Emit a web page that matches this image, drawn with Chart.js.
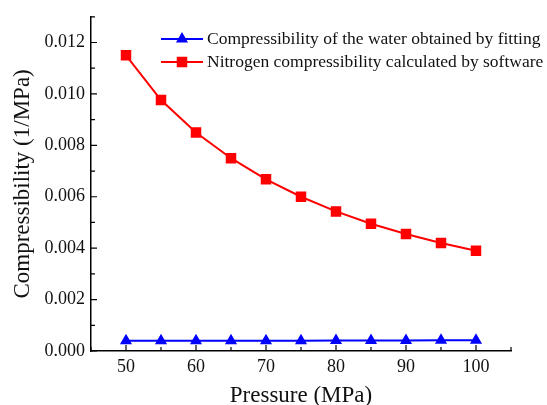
<!DOCTYPE html>
<html>
<head>
<meta charset="utf-8">
<script src="https://cdn.jsdelivr.net/npm/chart.js@4.4.0/dist/chart.umd.min.js"></script>
<style>
  body { margin: 0; background: #fff; }
  #wrap { width: 547px; height: 405px; }
</style>
</head>
<body>
<div id="wrap"><canvas id="chart"></canvas></div>
<script>
const pressure = [50, 55, 60, 65, 70, 75, 80, 85, 90, 95, 100];
const waterComp = [0.00040, 0.00040, 0.00040, 0.00040, 0.00040, 0.00040, 0.00041, 0.00041, 0.00041, 0.00042, 0.00042];
const nitrogenComp = [0.01150, 0.00976, 0.00850, 0.00750, 0.00668, 0.00600, 0.00543, 0.00495, 0.00455, 0.00420, 0.00390];
const seriesNames = ["Compressibility of the water obtained by fitting", "Nitrogen compressibility calculated by software"];
const xTicks = [50, 60, 70, 80, 90, 100];
const yTicks = [0, 0.002, 0.004, 0.006, 0.008, 0.010, 0.012];

const FONT = "'Liberation Serif', 'DejaVu Serif', serif";

// ticks drawn inward, with minor ones in between
const innerTicks = {
  id: "innerTicks",
  afterDraw(chart) {
    const ctx = chart.ctx;
    const xs = chart.scales.x, ys = chart.scales.y;
    const area = chart.chartArea;
    ctx.save();
    ctx.strokeStyle = "#000";
    ctx.lineWidth = 1.2;
    ctx.beginPath();
    for (let v = 45; v <= 105; v += 5) {
      const px = xs.getPixelForValue(v);
      const len = v % 10 === 0 ? 6 : 4;
      ctx.moveTo(px, area.bottom);
      ctx.lineTo(px, area.bottom - len);
    }
    for (let i = 0; i <= 13; i++) {
      const v = i * 0.001;
      const py = ys.getPixelForValue(v);
      const len = i % 2 === 0 ? 6 : 4;
      ctx.moveTo(area.left, py);
      ctx.lineTo(area.left + len, py);
    }
    ctx.stroke();
    ctx.restore();
  }
};

// legend with line + marker, inside top right
const lineLegend = {
  id: "lineLegend",
  afterDraw(chart) {
    const ctx = chart.ctx;
    const x0 = 161, x1 = 203;
    const rows = [39, 62];
    ctx.save();
    chart.data.datasets.forEach((ds, i) => {
      const y = rows[i];
      ctx.strokeStyle = ds.borderColor;
      ctx.lineWidth = ds.borderWidth;
      ctx.beginPath();
      ctx.moveTo(x0, y);
      ctx.lineTo(x1, y);
      ctx.stroke();
      ctx.fillStyle = ds.pointBackgroundColor;
      Chart.helpers.drawPoint(ctx, {
        pointStyle: ds.pointStyle,
        radius: ds.pointRadius,
        borderWidth: 1
      }, (x0 + x1) / 2, y);
      ctx.fillStyle = "#111";
      ctx.font = "17.5px " + FONT;
      ctx.textBaseline = "middle";
      ctx.textAlign = "left";
      ctx.fillText(ds.label, x1 + 4, y);
    });
    ctx.restore();
  }
};

const chart = new Chart(document.getElementById("chart"), {
  type: "line",
  data: {
    datasets: [{
      label: seriesNames[0],
      data: pressure.map((p, i) => ({ x: p, y: waterComp[i] })),
      borderColor: "#0000ff",
      backgroundColor: "#0000ff",
      pointBackgroundColor: "#0000ff",
      borderWidth: 2,
      pointStyle: "triangle",
      pointRadius: 5,
      tension: 0
    }, {
      label: seriesNames[1],
      data: pressure.map((p, i) => ({ x: p, y: nitrogenComp[i] })),
      borderColor: "#ff0000",
      backgroundColor: "#ff0000",
      pointBackgroundColor: "#ff0000",
      borderWidth: 2,
      pointStyle: "rect",
      pointRadius: 6,
      tension: 0
    }]
  },
  options: {
    responsive: true,
    maintainAspectRatio: false,
    animation: false,
    layout: { padding: { top: 13, right: 36, left: 0, bottom: 0 } },
    plugins: { legend: { display: false }, tooltip: { enabled: false } },
    scales: {
      x: {
        type: "linear",
        min: 45,
        max: 105,
        afterBuildTicks: s => { s.ticks = xTicks.map(v => ({ value: v })); },
        afterFit: s => { s.height = 54; },
        grid: { display: false, drawTicks: false },
        border: { display: true, color: "#000", width: 1.5 },
        ticks: { color: "#111", font: { family: FONT, size: 18 }, padding: 5 },
        title: { display: true, text: "Pressure (MPa)", color: "#111", font: { family: FONT, size: 23 }, padding: { top: 0, bottom: -5 } }
      },
      y: {
        type: "linear",
        min: 0,
        max: 0.013,
        afterBuildTicks: s => { s.ticks = yTicks.map(v => ({ value: v })); },
        afterFit: s => { s.width = 91; },
        grid: { display: false, drawTicks: false },
        border: { display: true, color: "#000", width: 1.5 },
        ticks: { color: "#111", font: { family: FONT, size: 18 }, padding: 6, callback: v => v.toFixed(3) },
        title: { display: true, text: "Compressibility (1/MPa)", color: "#111", font: { family: FONT, size: 23 }, padding: { top: 9, bottom: 0 } }
      }
    }
  },
  plugins: [innerTicks, lineLegend]
});
</script>
</body>
</html>
